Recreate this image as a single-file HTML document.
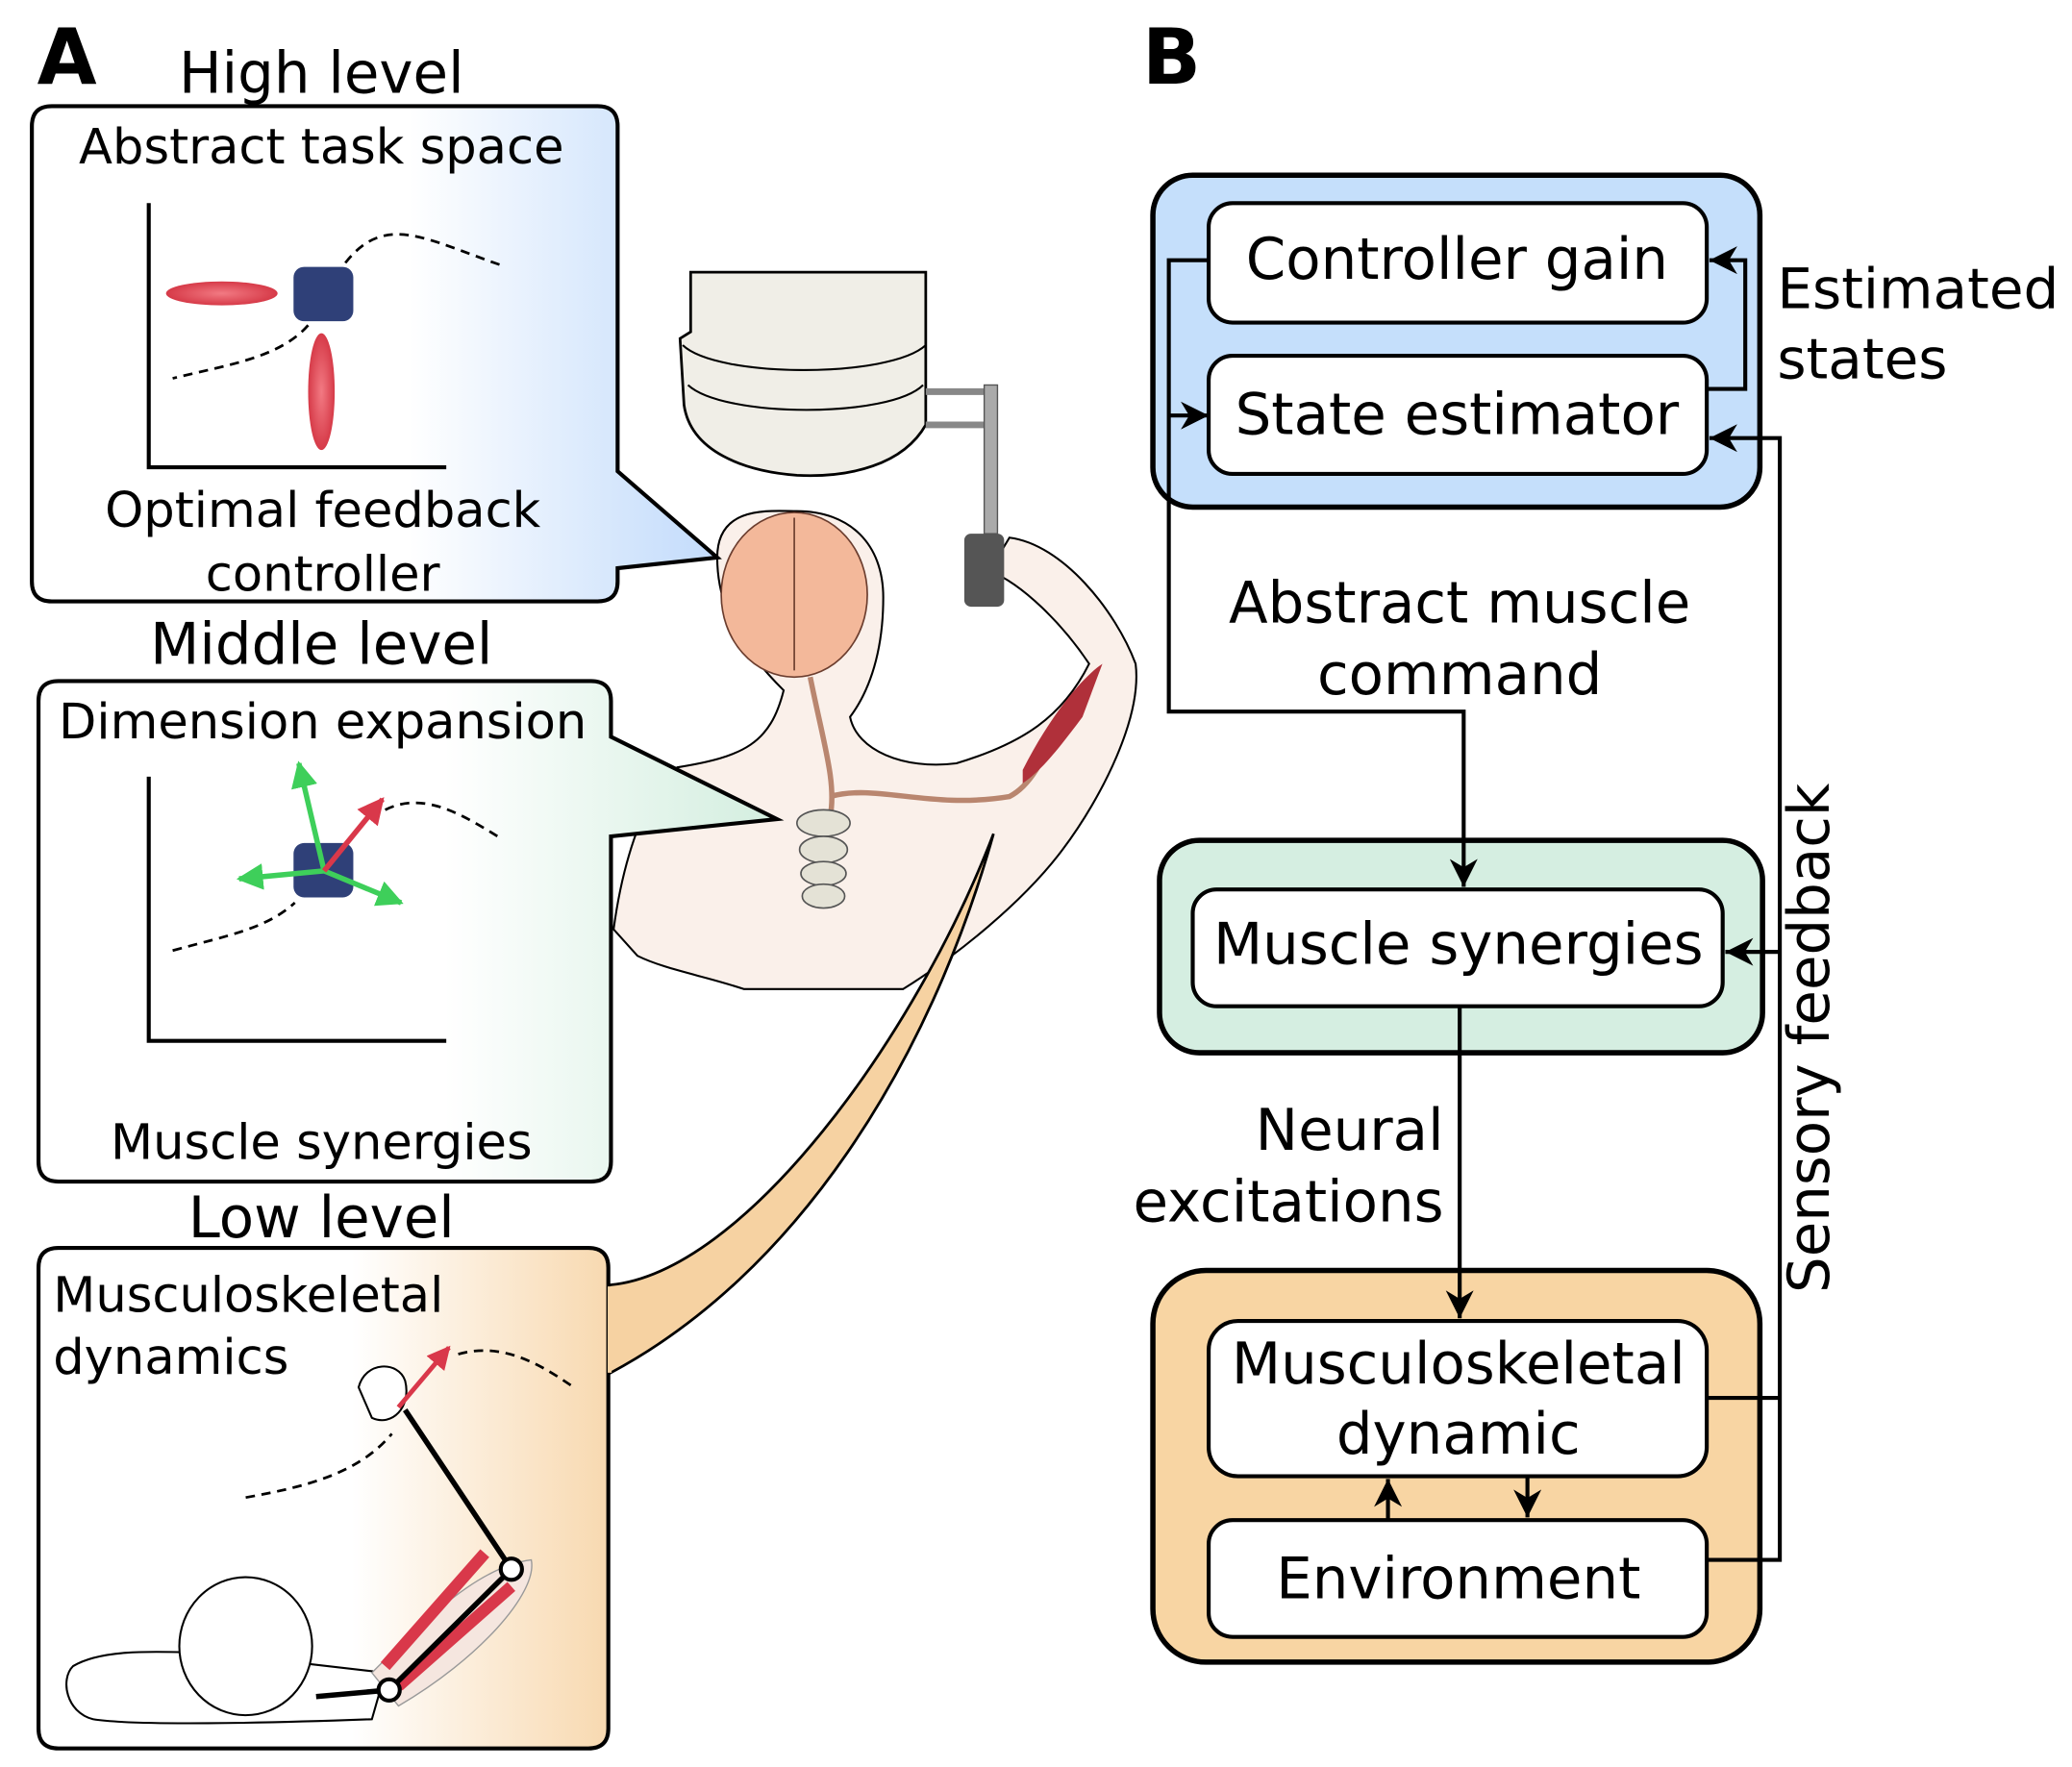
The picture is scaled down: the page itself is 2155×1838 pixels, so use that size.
<!DOCTYPE html>
<html><head><meta charset="utf-8"><style>
html,body{margin:0;padding:0;background:#fff;}
svg{display:block;}
text{font-family:"DejaVu Sans","Liberation Sans",sans-serif;fill:#000;}
</style></head><body>
<svg width="2155" height="1838" viewBox="0 0 1560 1331" preserveAspectRatio="none" xmlns="http://www.w3.org/2000/svg">
<defs>
<linearGradient id="gb" x1="0" x2="1" y1="0" y2="0"><stop offset="0.55" stop-color="#fff"/><stop offset="1" stop-color="#c2dbfb"/></linearGradient>
<linearGradient id="gg" x1="0" x2="1" y1="0" y2="0"><stop offset="0.55" stop-color="#fff"/><stop offset="1" stop-color="#d3eedf"/></linearGradient>
<linearGradient id="go" x1="0" x2="1" y1="0" y2="0"><stop offset="0.55" stop-color="#fff"/><stop offset="1" stop-color="#f8d9b0"/></linearGradient>
<radialGradient id="mr"><stop offset="0" stop-color="#f27a83"/><stop offset="1" stop-color="#d63a48"/></radialGradient>
<marker id="ar" viewBox="0 0 10 10" refX="10" refY="5" markerWidth="7" markerHeight="7" orient="auto-start-reverse"><path d="M0,0 L10,5 L0,10 L3,5 z" fill="#000"/></marker>
<marker id="ag" viewBox="0 0 10 10" refX="9" refY="5" markerWidth="5" markerHeight="5" orient="auto"><path d="M0,0 L10,5 L0,10 z" fill="#3ecf5a"/></marker>
<marker id="arr" viewBox="0 0 10 10" refX="9" refY="5" markerWidth="5" markerHeight="5" orient="auto"><path d="M0,0 L10,5 L0,10 z" fill="#d9384a"/></marker>
</defs>

<text x="28" y="63" font-size="58" font-weight="bold">A</text>
<text x="860" y="63" font-size="58" font-weight="bold">B</text>

<!-- Figure body -->
<path d="M462,700 C470,640 490,590 510,578 C560,570 580,560 590,520 C560,490 540,460 540,420 C540,380 580,385 600,385 C640,385 665,410 665,450 C665,490 655,520 640,540 C645,565 680,580 720,575 C770,560 800,540 820,500 C800,470 770,440 745,430 L760,405 C800,410 840,460 855,500 C860,540 830,600 800,640 C770,680 720,720 680,745 L560,745 C530,735 500,730 480,720 Z" fill="#faf0ea" stroke="#000" stroke-width="1.5"/>
<ellipse cx="598" cy="448" rx="55" ry="62" fill="#f3b89a" stroke="#6b3d2e" stroke-width="1.2"/>
<path d="M598,390 L598,505" stroke="#6b3d2e" stroke-width="1.2"/>
<path d="M610,510 C620,560 630,590 625,615 M625,600 C660,590 700,610 760,600 C780,590 790,560 800,540" stroke="#b9866f" stroke-width="4" fill="none"/>
<path d="M770,580 C790,540 815,510 830,500 L815,540 C800,560 785,580 770,590 Z" fill="#b0303a"/>
<g fill="#e4e2d6" stroke="#555" stroke-width="1.2">
<ellipse cx="620" cy="620" rx="20" ry="10"/><ellipse cx="620" cy="640" rx="18" ry="10"/><ellipse cx="620" cy="658" rx="17" ry="9"/><ellipse cx="620" cy="675" rx="16" ry="9"/>
</g>
<!-- Robot -->
<path d="M520,205 L697,205 L697,250 L697,320 C680,350 640,360 600,358 C560,355 520,340 515,305 L512,255 L520,250 Z" fill="#f0eee7" stroke="#000" stroke-width="2"/>
<path d="M514,260 C540,285 670,285 697,260 M518,290 C545,315 670,315 695,290" stroke="#000" stroke-width="1.5" fill="none"/>
<path d="M697,295 L745,295 M697,320 L745,320" stroke="#888" stroke-width="5"/>
<rect x="741" y="290" width="10" height="112" fill="#aaa" stroke="#555"/>
<rect x="726" y="402" width="30" height="55" rx="5" fill="#555"/>

<!-- Box 1 -->
<path d="M39,80 L450,80 Q465,80 465,95 L465,355 L540,420 L465,428 L465,438 Q465,453 450,453 L39,453 Q24,453 24,438 L24,95 Q24,80 39,80 Z" fill="url(#gb)" stroke="#000" stroke-width="3"/>
<text x="242" y="70" font-size="43" text-anchor="middle">High level</text>
<text x="242" y="123" font-size="37" text-anchor="middle">Abstract task space</text>
<path d="M112,153 L112,352 L336,352" stroke="#000" stroke-width="3" fill="none"/>
<ellipse cx="167" cy="221" rx="42" ry="9" fill="url(#mr)"/>
<ellipse cx="242" cy="295" rx="10" ry="44" fill="url(#mr)"/>
<rect x="221" y="201" width="45" height="41" rx="8" fill="#2f4078"/>
<path d="M260,198 C290,160 320,180 378,200" stroke="#000" stroke-width="2" stroke-dasharray="7,5" fill="none"/>
<path d="M232,245 C210,270 170,275 130,285" stroke="#000" stroke-width="2" stroke-dasharray="7,5" fill="none"/>
<text x="243" y="397" font-size="37" text-anchor="middle">Optimal feedback</text>
<text x="243" y="445" font-size="37" text-anchor="middle">controller</text>

<!-- Box 2 -->
<text x="242" y="500" font-size="43" text-anchor="middle">Middle level</text>
<path d="M44,513 L445,513 Q460,513 460,528 L460,555 L585,617 L460,630 L460,875 Q460,890 445,890 L44,890 Q29,890 29,875 L29,528 Q29,513 44,513 Z" fill="url(#gg)" stroke="#000" stroke-width="3"/>
<text x="243" y="556" font-size="37" text-anchor="middle">Dimension expansion</text>
<path d="M112,585 L112,784 L336,784" stroke="#000" stroke-width="3" fill="none"/>
<rect x="221" y="635" width="45" height="41" rx="8" fill="#2f4078"/>
<g stroke="#3ecf5a" stroke-width="4" fill="none">
<line x1="244" y1="656" x2="225" y2="575" marker-end="url(#ag)"/>
<line x1="244" y1="656" x2="180" y2="662" marker-end="url(#ag)"/>
<line x1="244" y1="656" x2="302" y2="680" marker-end="url(#ag)"/>
</g>
<line x1="244" y1="656" x2="288" y2="602" stroke="#d9384a" stroke-width="4" marker-end="url(#arr)"/>
<path d="M290,610 C320,595 350,615 378,632" stroke="#000" stroke-width="2" stroke-dasharray="7,5" fill="none"/>
<path d="M130,716 C170,705 200,700 222,680" stroke="#000" stroke-width="2" stroke-dasharray="7,5" fill="none"/>
<text x="242" y="873" font-size="37" text-anchor="middle">Muscle synergies</text>

<!-- Box 3 -->
<text x="242" y="932" font-size="43" text-anchor="middle">Low level</text>
<path d="M458,968 C560,960 690,780 748,628 C700,800 600,960 458,1035 Z" fill="#f6d2a2" stroke="#000" stroke-width="2"/>
<path d="M44,940 L443,940 Q458,940 458,955 L458,1302 Q458,1317 443,1317 L44,1317 Q29,1317 29,1302 L29,955 Q29,940 44,940 Z" fill="url(#go)" stroke="#000" stroke-width="3"/>
<path d="M459,969 L459,1034" stroke="#f6d2a2" stroke-width="3"/>
<text x="40" y="988" font-size="37">Musculoskeletal</text>
<text x="40" y="1035" font-size="37">dynamics</text>
<path d="M185,1128 C230,1120 270,1110 295,1080" stroke="#000" stroke-width="2" stroke-dasharray="7,5" fill="none"/>
<path d="M345,1020 C380,1010 410,1030 432,1045" stroke="#000" stroke-width="2" stroke-dasharray="7,5" fill="none"/>
<path d="M55,1255 C80,1240 130,1245 160,1245 L290,1260 L280,1295 C200,1298 100,1300 70,1295 C50,1290 45,1265 55,1255 Z" fill="#fff" stroke="#000" stroke-width="1.5"/>
<ellipse cx="185" cy="1240" rx="50" ry="52" fill="#fff" stroke="#000" stroke-width="1.5"/>
<path d="M280,1260 C320,1220 360,1180 400,1175 C405,1200 360,1250 300,1285 Z" fill="#f5e6df" stroke="#999" stroke-width="1"/>
<path d="M290,1255 L365,1170 M300,1270 L385,1195" stroke="#d9384a" stroke-width="9"/>
<path d="M238,1278 L293,1273 L385,1182 L305,1062" stroke="#000" stroke-width="4" fill="none"/>
<circle cx="293" cy="1273" r="8" fill="#fff" stroke="#000" stroke-width="3"/>
<circle cx="385" cy="1182" r="8" fill="#fff" stroke="#000" stroke-width="3"/>
<path d="M270,1045 C275,1025 300,1025 305,1040 C310,1060 295,1075 280,1068 Z" fill="#fff" stroke="#000" stroke-width="1.5"/>
<line x1="300" y1="1060" x2="338" y2="1015" stroke="#d9384a" stroke-width="3.5" marker-end="url(#arr)"/>

<!-- Panel B -->
<rect x="868" y="132" width="457" height="250" rx="30" fill="#c5dffb" stroke="#000" stroke-width="4"/>
<rect x="910" y="153" width="375" height="90" rx="18" fill="#fff" stroke="#000" stroke-width="3"/>
<text x="1097" y="210" font-size="43" text-anchor="middle">Controller gain</text>
<rect x="910" y="268" width="375" height="89" rx="18" fill="#fff" stroke="#000" stroke-width="3"/>
<text x="1097" y="327" font-size="43" text-anchor="middle">State estimator</text>

<rect x="873" y="633" width="454" height="160" rx="30" fill="#d5eee1" stroke="#000" stroke-width="4"/>
<rect x="898" y="670" width="399" height="88" rx="18" fill="#fff" stroke="#000" stroke-width="3"/>
<text x="1098" y="726" font-size="43" text-anchor="middle">Muscle synergies</text>

<rect x="868" y="957" width="457" height="295" rx="40" fill="#f8d5a3" stroke="#000" stroke-width="4"/>
<rect x="910" y="995" width="375" height="117" rx="22" fill="#fff" stroke="#000" stroke-width="3"/>
<text x="1098" y="1042" font-size="43" text-anchor="middle">Musculoskeletal</text>
<text x="1098" y="1095" font-size="43" text-anchor="middle">dynamic</text>
<rect x="910" y="1145" width="375" height="88" rx="18" fill="#fff" stroke="#000" stroke-width="3"/>
<text x="1098" y="1204" font-size="43" text-anchor="middle">Environment</text>

<g stroke="#000" stroke-width="3" fill="none">
<path d="M910,196 L880,196 L880,536 L1102,536 L1102,668" marker-end="url(#ar)"/>
<path d="M880,313 L910,313" marker-end="url(#ar)"/>
<path d="M1285,293 L1314,293 L1314,196 L1287,196" marker-end="url(#ar)"/>
<path d="M1285,1175 L1340,1175 L1340,330 L1287,330" marker-end="url(#ar)"/>
<path d="M1285,1053 L1340,1053"/>
<path d="M1340,717 L1299,717" marker-end="url(#ar)"/>
<path d="M1099,758 L1099,993" marker-end="url(#ar)"/>
<path d="M1045,1145 L1045,1114" marker-end="url(#ar)"/>
<path d="M1150,1112 L1150,1143" marker-end="url(#ar)"/>
</g>
<text x="1338" y="232" font-size="42">Estimated</text>
<text x="1338" y="285" font-size="42">states</text>
<text x="1099" y="469" font-size="43" text-anchor="middle">Abstract muscle</text>
<text x="1099" y="523" font-size="43" text-anchor="middle">command</text>
<text x="1087" y="866" font-size="43" text-anchor="end">Neural</text>
<text x="1087" y="920" font-size="43" text-anchor="end">excitations</text>
<text x="0" y="0" font-size="43" text-anchor="middle" transform="translate(1377,782) rotate(-90)">Sensory feedback</text>
</svg>
</body></html>
